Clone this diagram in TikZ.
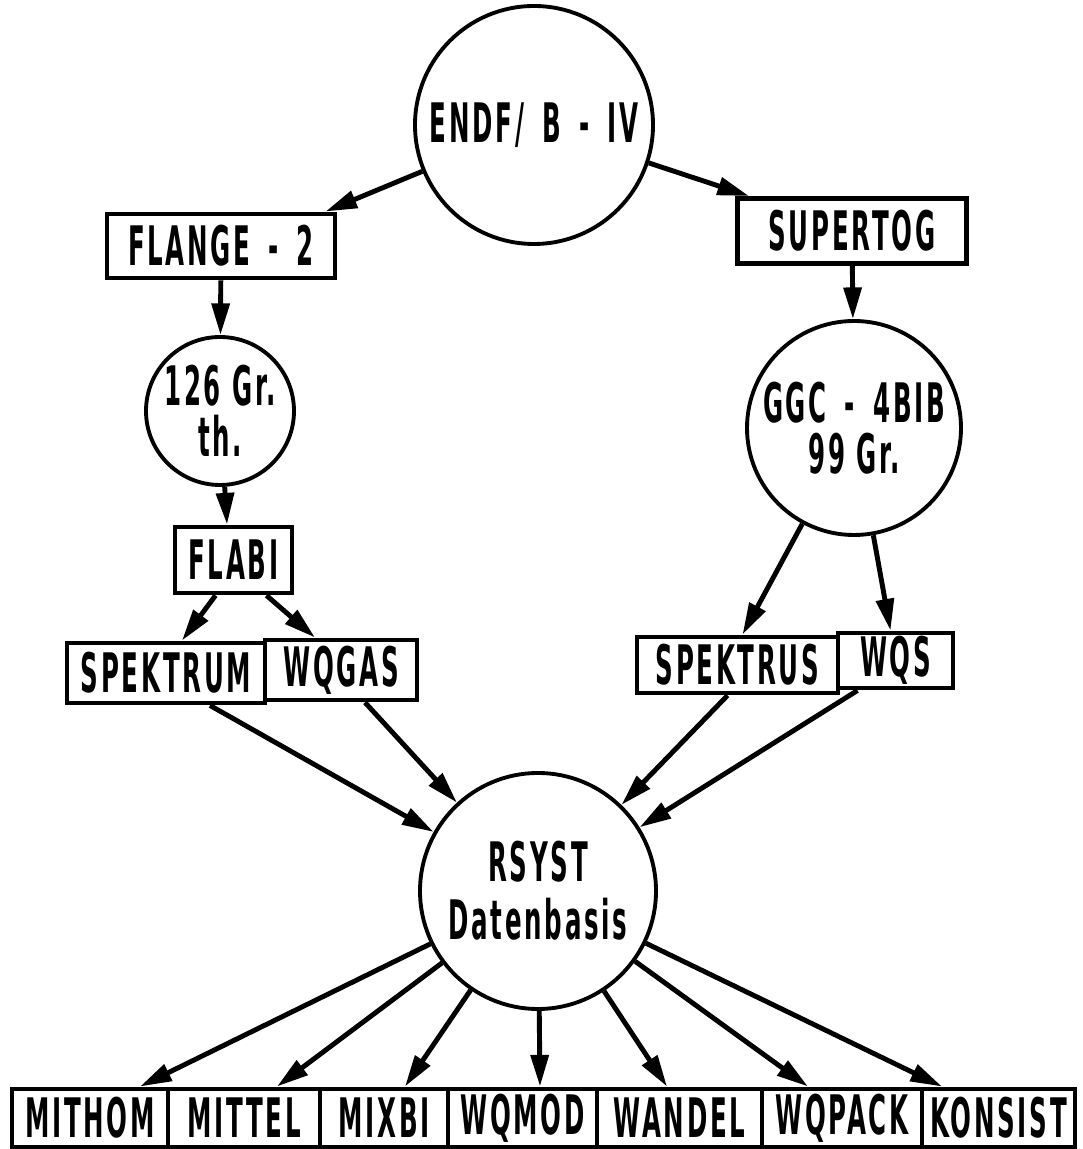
\documentclass[tikz,border=0pt]{standalone}
\usepackage{fontspec}
\usetikzlibrary{arrows.meta, shapes}
\newfontfamily\dinfont[FakeStretch=0.45, LetterSpace=5]{DejaVu Sans Bold}
\tikzset{
  prog/.style={draw, line width=1.4pt, inner sep=0pt, minimum height=0.6cm, font=\dinfont\fontsize{15.5}{15}\selectfont},
  lib/.style={circle, draw, line width=1.1pt, inner sep=0pt, align=center, font=\dinfont\fontsize{15.5}{14.5}\selectfont},
  flow/.style={-{Triangle[length=9pt,width=5pt]}, line width=1.4pt}
}

\begin{document}
\begin{tikzpicture}
    % Frame of the page
    \useasboundingbox (0,0) rectangle (10.83,11.49);

    % Source library at the top
    \node[lib, minimum size=2.38cm] (endf) at (5.34,10.24) {ENDF/\,\,B\,\,-\,\,IV};

    % Left branch (thermal groups)
    \node[prog, minimum width=2.28cm, minimum height=0.64cm] (flange) at (2.21,9.03) {FLANGE\,\,-\,\,2};
    \node[lib, minimum size=1.48cm] (gr126) at (2.20,7.38) {126 Gr.\\th.};
    \node[prog, minimum width=1.17cm, minimum height=0.66cm] (flabi) at (2.335,5.89) {FLABI};
    \node[prog, minimum width=1.98cm] (spektrum) at (1.66,4.76) {SPEKTRUM};
    \node[prog, minimum width=1.52cm] (wqgas) at (3.41,4.79) {WQGAS};

    % Right branch (fast groups)
    \node[prog, minimum width=2.29cm, minimum height=0.65cm] (supertog) at (8.52,9.18) {SUPERTOG};
    \node[lib, minimum size=2.14cm] (ggc) at (8.54,7.21) {GGC\,\,-\,\,4BIB\\99 Gr.};
    \node[prog, minimum width=2.01cm, minimum height=0.56cm] (spektrus) at (7.375,4.84) {SPEKTRUS};
    \node[prog, minimum width=1.15cm, minimum height=0.55cm] (wqs) at (8.955,4.885) {WQS};

    % Data base
    \node[lib, minimum size=2.36cm] (rsyst) at (5.38,2.58) {RSYST\\[2pt]Datenbasis};

    % Programs reading the data base - one row
    \foreach \n/\x/\w/\t in {mithom/0.90/1.56/MITHOM, mittel/2.44/1.52/MITTEL, mixbi/3.84/1.28/MIXBI,
        wqmod/5.225/1.49/WQMOD, wandel/6.795/1.65/WANDEL, wqpack/8.42/1.60/WQPACK, konsist/9.985/1.53/KONSIST} {
        \node[prog, minimum width=\w cm, minimum height=0.58cm] (\n) at (\x,0.31) {\t};
    }

    % Upper arrows
    \draw[flow] (endf) -- ([xshift=-0.12cm]flange.north east);
    \draw[flow] (endf) -- ([xshift=0.14cm]supertog.north west);
    \draw[flow] (flange) -- (gr126);
    \draw[flow] (gr126) -- ([xshift=-0.065cm]flabi.north);
    \draw[flow] ([xshift=-0.18cm]flabi.south) -- ([xshift=0.16cm]spektrum.north);
    \draw[flow] ([xshift=0.33cm]flabi.south) -- ([xshift=-0.26cm]wqgas.north);
    \draw[flow] (supertog) -- (ggc);
    \draw[flow] (ggc) -- ([xshift=0.05cm]spektrus.north);
    \draw[flow] (ggc) -- ([xshift=-0.05cm]wqs.north);

    % Into the data base
    \draw[flow] ([xshift=0.44cm]spektrum.south) -- (rsyst);
    \draw[flow] ([xshift=0.24cm]wqgas.south) -- (rsyst);
    \draw[flow] ([xshift=-0.10cm]spektrus.south) -- (rsyst);
    \draw[flow] ([xshift=-0.38cm]wqs.south) -- (rsyst);

    % Out of the data base
    \foreach \n/\dx in {mithom/0.50, mittel/0.33, mixbi/0.21, wqmod/0.175, wandel/-0.125, wqpack/-0.34, konsist/-0.565} {
        \draw[flow] (rsyst) -- ([xshift=\dx cm]\n.north);
    }
\end{tikzpicture}
\end{document}
